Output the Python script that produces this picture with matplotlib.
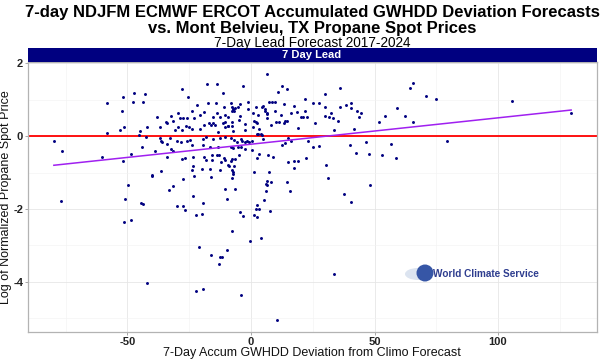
"""
7-day NDJFM ECMWF ERCOT accumulated GWHDD deviation vs. Mont Belvieu propane spot price.
Scatter of (forecast deviation, log normalized price) with an OLS fit line.
Output: out.png
"""
import numpy as np
import matplotlib
matplotlib.use("Agg")
import matplotlib.pyplot as plt
from matplotlib.patches import Ellipse, Rectangle
from matplotlib.ticker import MultipleLocator

plt.rcParams["font.family"] = ["Liberation Sans", "DejaVu Sans"]
plt.rcParams["axes.unicode_minus"] = False

TITLE_1 = "7-day NDJFM ECMWF ERCOT Accumulated GWHDD Deviation Forecasts"
TITLE_2 = "vs. Mont Belvieu, TX Propane Spot Prices"
SUBTITLE = "7-Day Lead Forecast 2017-2024"
STRIP = "7 Day Lead"
XLABEL = "7-Day Accum GWHDD Deviation from Climo Forecast"
YLABEL = "Log of Normalized Propane Spot Price"

# points, grouped by region (deviation, log price)
west_dev = [-79.8, -76.6, -58.2, -51.7, -47.2, -42.8, -47.7, -43.7, -52.2, -51.3,
            -53.2, -58.4, -44.9, -45.5, -42.2, -42.4, -38.1, -36.7, -34.3, -33.9,
            -36.8, -36.6, -36.0, -34.1, -44.1, -38.7, -48.6, -60.3, -51.9, -33.9,
            -40.0, -40.2, -36.3, -49.9, -33.3, -51.0, -77.0, -44.5, -43.7, -30.1,
            -51.3, -48.7, -42.1]
west_price = [-0.12, -0.41, 0.90, 1.07, 1.19, 1.17, 0.93, 0.93, 0.70, 0.26,
              0.17, 0.10, 0.14, 0.02, 0.25, -0.01, 0.52, 0.26, 0.38, 0.35,
              -0.06, -0.12, -0.17, -0.22, -0.31, -0.42, -0.48, -0.58, -0.67, -0.56,
              -1.06, -1.08, -0.95, -1.35, -1.47, -1.72, -1.78, -1.83, -1.85, -1.93,
              -2.37, -2.31, -4.03]

core_dev = [-17.8, -13.6, -3.4, -28.1, -11.2, -25.5, -22.0, -17.5, -14.3, -8.0,
            -4.3, -23.9, -18.9, -10.9, -13.9, -7.8, -7.2, -6.4, -5.3, -7.7,
            -6.8, -29.7, -32.4, -31.5, -28.9, -27.4, -26.0, -23.0, -20.8, -15.5,
            -12.6, -10.5, -9.2, -4.5, -4.7, -16.9, -16.3, -15.5, -14.7, -11.2,
            -10.4, -7.7, -9.2, -2.6, -29.6, -26.4, -25.0, -23.9, -20.6, -18.9,
            -30.6, -28.1, -13.5, -10.5, -9.4, -7.7, -7.2,
            -18.3, -32.8, -30.1, -28.3, -26.0, -24.6, -19.3, -15.3, -12.4, -10.6,
            -8.1, -6.9, -5.5, -4.2, -3.6, -2.6, -32.5, -24.0, -19.3, -31.5,
            -16.5, -13.2, -8.2, -5.4, -3.9, -7.2, -2.4, -26.9, -27.9, -23.5,
            -19.2, -15.7, -13.9, -12.8, -11.1, -10.5, -7.8, -6.4, -4.9, -12.1,
            -8.1, -15.7, -18.3, -23.4, -23.9, -19.8, -16.6, -12.4, -9.4, -9.0,
            -7.0, -7.7, -7.2, -7.2, -27.7, -23.1, -16.2, -7.8, -31.6, -10.5,
            -6.5]
core_price = [1.43, 1.43, 1.37, 1.29, 1.18, 1.08, 0.86, 0.92, 0.92, 0.91,
              0.87, 0.68, 0.67, 0.80, 0.65, 0.81, 0.75, 0.77, 0.79, 0.70,
              0.70, 0.64, 0.56, 0.42, 0.49, 0.49, 0.49, 0.49, 0.58, 0.52,
              0.52, 0.59, 0.52, 0.56, 0.44, 0.35, 0.32, 0.36, 0.31, 0.35,
              0.38, 0.38, 0.28, 0.34, 0.26, 0.27, 0.26, 0.21, 0.21, 0.32,
              0.17, 0.16, 0.12, 0.24, 0.27, 0.27, 0.14,
              -0.03, -0.06, -0.14, -0.15, -0.13, -0.10, -0.08, -0.08, -0.06, -0.02,
              -0.05, -0.11, -0.15, -0.09, -0.12, -0.16, -0.36, -0.25, -0.25, -0.41,
              -0.31, -0.30, -0.29, -0.31, -0.29, -0.33, -0.34, -0.60, -0.64, -0.56,
              -0.58, -0.53, -0.51, -0.52, -0.61, -0.66, -0.62, -0.63, -0.53, -0.72,
              -0.69, -0.66, -0.66, -0.83, -0.94, -0.89, -0.89, -0.93, -0.80, -0.82,
              -0.81, -0.92, -0.99, -1.05, -1.17, -1.09, -1.12, -1.16, -1.38, -1.45,
              -1.45]

centre_dev = [6.5, 12.7, 14.6, 11.1, 21.9, -1.1, 7.4, 8.6, 9.6, 13.2,
              17.3, 4.9, 2.1, 4.3, -1.4, 0.8, 3.0, 5.8, 6.5, 6.4,
              5.7, 9.7, 12.3, 16.3, 18.5, 21.7, 20.1, 20.9, 22.6, 13.8,
              14.6, 13.2, 11.3, 10.0, 8.2, 6.5, 1.2, 2.0, 2.4, 0.8,
              3.2, -2.4, 19.2, 2.3, 3.0, 4.0, 4.6, -1.6, -0.7, 0.4,
              5.0, 15.1, 16.2, 13.9, 12.4, 23.1, 0.3, 3.2, 2.6, 7.0,
              8.9, 15.0, 17.4, 18.9, 17.3, 22.4, 1.2, 7.2, 6.4, 5.9,
              8.0, 6.4, 14.7]
centre_price = [1.70, 1.39, 1.29, 1.20, 1.01, 0.93, 0.93, 0.94, 0.94, 0.88,
                0.84, 0.82, 0.79, 0.80, 0.75, 0.64, 0.58, 0.70, 0.65, 0.61,
                0.75, 0.70, 0.59, 0.65, 0.67, 0.70, 0.54, 0.54, 0.52, 0.41,
                0.41, 0.36, 0.40, 0.40, 0.31, 0.49, 0.41, 0.40, 0.36, 0.26,
                0.19, 0.17, 0.22, 0.05, 0.06, 0.05, 0.02, -0.14, -0.16, -0.14,
                -0.08, -0.05, -0.12, -0.18, -0.24, -0.14, -0.39, -0.49, -0.61, -0.51,
                -0.57, -0.70, -0.67, -0.69, -0.86, -0.61, -0.99, -0.99, -1.23, -1.30,
                -1.26, -1.35, -1.26]

east_dev = [29.8, 36.2, 25.2, 27.4, 30.0, 35.9, 38.3, 40.6, 40.6, 32.3,
            29.8, 31.7, 33.2, 35.3, 25.9, 42.9, 44.5, 43.8, 33.5, 41.8,
            51.9, 54.1, 59.1, 62.3, 65.7, 64.3, 65.5, 70.9, 75.0, 25.2,
            27.4, 40.1, 46.7, 42.5, 47.9, 52.9, 56.7, 58.7, 79.2, 30.2,
            31.2, 48.1, 37.7, 40.4, 33.6, 105.7, 129.6]
east_price = [1.17, 1.33, 0.90, 0.91, 0.79, 0.81, 0.86, 0.90, 0.78, 0.64,
              0.56, 0.52, 0.49, 0.43, 0.35, 0.70, 0.65, 0.54, 0.17, 0.21,
              0.40, 0.55, 0.77, 0.55, 0.38, 1.31, 1.46, 1.10, 1.01, -0.31,
              -0.28, -0.25, -0.17, -0.47, -0.49, -0.52, -0.22, -0.60, -0.14, -0.79,
              -1.14, -1.33, -1.58, -1.81, -3.79, 0.96, 0.64]

low_dev = [-23.5, -19.3, -27.4, -26.8, -22.1, -20.0, -9.8, 6.2, 15.9, 5.4,
           2.6, 1.9, 3.1, 7.8, -4.5, -3.4, 1.2, 2.6, -7.6, -0.5,
           3.9, -20.9, -16.1, -12.7, -11.9, -9.7, -13.0, -22.1, -19.3, -3.9,
           10.5]
low_price = [-1.63, -1.83, -1.93, -2.04, -2.17, -2.15, -1.72, -1.50, -1.50, -1.74,
             -1.89, -2.01, -2.01, -2.05, -2.08, -2.19, -2.17, -2.22, -2.59, -2.88,
             -2.80, -3.05, -3.26, -3.31, -3.31, -3.13, -3.51, -4.25, -4.20, -4.37,
             -5.04]

NAVY = "#000080"


def main():
    x = np.array(west_dev + core_dev + centre_dev + east_dev + low_dev)
    y = np.array(west_price + core_price + centre_price + east_price + low_price)

    fig = plt.figure(figsize=(6, 3.6), dpi=100)
    ax = fig.add_axes([28 / 600, 28 / 360, 569 / 600, 270 / 360])

    # grid like ggplot theme_light
    ax.set_axisbelow(True)
    ax.xaxis.set_major_locator(MultipleLocator(50))
    ax.xaxis.set_minor_locator(MultipleLocator(25))
    ax.yaxis.set_major_locator(MultipleLocator(2))
    ax.yaxis.set_minor_locator(MultipleLocator(1))
    ax.grid(which="major", color="#E6E6E6", lw=0.6)
    ax.grid(which="minor", color="#F2F2F2", lw=0.4)
    ax.tick_params(which="minor", length=0)
    ax.tick_params(which="major", length=2.5, width=0.6, color="#999999", pad=1,
                   labelsize=8, labelcolor="#222222")
    for s in ax.spines.values():
        s.set_color("#B3B3B3"); s.set_linewidth(0.9)

    ax.axhline(0, color="red", lw=1.3, zorder=2)
    ax.scatter(x, y, s=4.5, color=NAVY, lw=0, zorder=3)

    slope, icpt = np.polyfit(x, y, 1)
    xs = np.array([x.min(), x.max()])
    ax.plot(xs, icpt + slope * xs, color="#A020F0", lw=1.1, zorder=4)

    pad_x = 0.05 * (x.max() - x.min()); pad_y = 0.05 * (y.max() - y.min())
    ax.set_xlim(x.min() - pad_x, x.max() + pad_x)
    ax.set_ylim(y.min() - pad_y, y.max() + pad_y)
    for lab in ax.get_xticklabels() + ax.get_yticklabels():
        lab.set_fontweight("bold")

    # facet strip
    fig.add_artist(Rectangle((28 / 600, 298 / 360), 569 / 600, 14 / 360,
                             transform=fig.transFigure, color=NAVY, lw=0))
    fig.text(312 / 600, 305 / 360, STRIP, color="white", fontsize=8, fontweight="bold",
             ha="center", va="center")

    # titles
    fig.text(312 / 600, 1 - 12 / 360, TITLE_1, fontsize=12, fontweight="bold", ha="center", va="center")
    fig.text(312 / 600, 1 - 28 / 360, TITLE_2, fontsize=12, fontweight="bold", ha="center", va="center")
    fig.text(312 / 600, 1 - 43 / 360, SUBTITLE, fontsize=9.8, ha="center", va="center")

    fig.text(312 / 600, 7 / 360, XLABEL, fontsize=9, ha="center", va="center", color="#111111")
    fig.text(6 / 600, 1 - 197 / 360, YLABEL, fontsize=9, ha="center", va="center",
             rotation=90, color="#111111")

    # watermark logo
    fig.add_artist(Ellipse((418 / 600, 1 - 274 / 360), 26 / 600, 12 / 360,
                           transform=fig.transFigure, color="#DCE4F0", lw=0))
    fig.add_artist(Ellipse((425 / 600, 1 - 273 / 360), 17 / 600, 17 / 360,
                           transform=fig.transFigure, color="#3656A6", lw=0))
    fig.text(433 / 600, 1 - 274 / 360, "World Climate Service", fontsize=7.2,
             fontweight="bold", color="#2E3D8F", ha="left", va="center")

    fig.savefig("out.png", dpi=100)
    plt.close(fig)


if __name__ == "__main__":
    main()
